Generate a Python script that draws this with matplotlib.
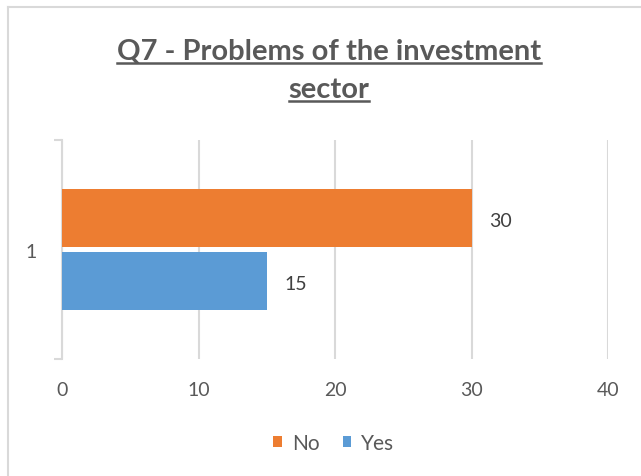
import numpy as np
import matplotlib.pyplot as plt
from matplotlib.lines import Line2D

categories = ['1']
series = ['No', 'Yes']
values = [30, 15]
colors = ['#ED7D31', '#5B9BD5']
title_lines = ['Q7 - Problems of the investment', 'sector']

plt.rcParams['font.family'] = ['Lato', 'DejaVu Sans']
txt = '#595959'
grid = '#D9D9D9'

W, H = 641, 477
fig = plt.figure(figsize=(W / 100, H / 100), dpi=100)
ax = fig.add_axes([62 / W, 1 - 360 / H, (608 - 62) / W, (360 - 141) / H])

# orange bar on top, blue below
offs = [0.288, -0.288]
for v, c, o, s in zip(values, colors, offs, series):
    ax.barh(o, v, height=0.53, color=c, label=s, zorder=3)
    ax.text(v + 1.3, o - 0.02, str(v), va='center', ha='left', fontsize=14, color='#404040')

ax.set_xlim(0, 40)
ax.set_ylim(-1, 1)
ax.set_xticks([0, 10, 20, 30, 40])
ax.grid(axis='x', color=grid, linewidth=1.5, zorder=0)
ax.set_yticks([0])
ax.set_yticklabels(categories)
ax.set_yticks([-1, 1], minor=True)
ax.tick_params(axis='y', which='major', length=0, pad=18, labelsize=14, labelcolor=txt)
ax.tick_params(axis='y', which='minor', length=6, width=1.5, color=grid)
ax.tick_params(axis='x', length=0, pad=16, labelsize=14, labelcolor=txt)
for sp in ['top', 'right', 'bottom']:
    ax.spines[sp].set_visible(False)
ax.spines['left'].set_color(grid)
ax.spines['left'].set_linewidth(1.5)

leg = fig.legend(loc='center', bbox_to_anchor=(334 / W, 1 - 444 / H), ncol=2, frameon=False,
                 fontsize=15, handlelength=0.4, handleheight=0.4, handletextpad=0.5,
                 columnspacing=1.1)
for t in leg.get_texts():
    t.set_color(txt)

# title with underline
r = fig.canvas.get_renderer()
for line, yb in zip(title_lines, [60, 98]):
    t = fig.text(329 / W, 1 - yb / H, line, ha='center', va='baseline', fontsize=21,
                 fontweight='bold', color=txt)
    bb = t.get_window_extent(r)
    uy = 1 - (yb + 3.5) / H
    fig.add_artist(Line2D([bb.x0 / W, bb.x1 / W], [uy, uy], color=txt, linewidth=1.8))

# chart border (cropped)
fig.add_artist(Line2D([8 / W, 8 / W], [0, 1 - 8 / H], color=grid, linewidth=1.5))
fig.add_artist(Line2D([8 / W, 1], [1 - 8 / H, 1 - 8 / H], color=grid, linewidth=1.5))

fig.savefig('out.png', dpi=100)
